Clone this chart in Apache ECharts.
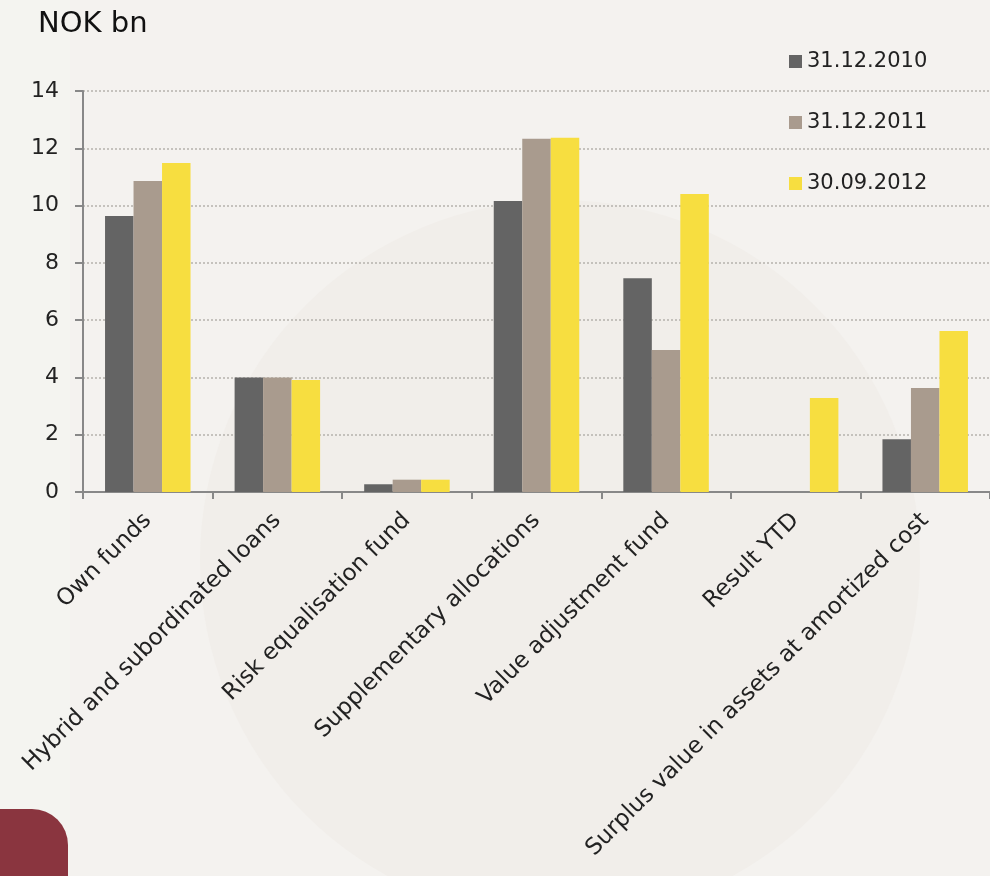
<!DOCTYPE html>
<html><head><meta charset="utf-8">
<script src="https://cdn.jsdelivr.net/npm/echarts@6/dist/echarts.min.js"></script>
<style>html,body{margin:0;padding:0;background:#f4f2ef}#c{width:990px;height:876px}</style>
</head><body><div id="c"></div>
<script>
const categories = ["Own funds","Hybrid and subordinated loans","Risk equalisation fund","Supplementary allocations","Value adjustment fund","Result YTD","Surplus value in assets at amortized cost"];
const s2010 = [9.64, 4.0, 0.27, 10.16, 7.46, 0, 1.84];
const s2011 = [10.86, 4.0, 0.43, 12.33, 4.96, 0, 3.63];
const s2012 = [11.49, 3.91, 0.43, 12.37, 10.4, 3.28, 5.62];
const seriesNames = ["31.12.2010","31.12.2011","30.09.2012"];
const colors = ["#646464","#a99b8e","#f7de40"];
const chart = echarts.init(document.getElementById('c'));
const font = "Verdana, 'DejaVu Sans', sans-serif";
chart.setOption({
  backgroundColor: '#f4f2ef',
  animation: false,
  textStyle: {fontFamily: font},
  title: {text: 'NOK bn', left: 33, top: 5, textStyle: {fontFamily: font, fontSize: 29, fontWeight: 'normal', color: '#111'}},
  graphic: [
    {type: 'circle', shape: {cx: 560, cy: 560, r: 360}, style: {fill: '#f1eeea'}, z: -10},
    {type: 'rect', shape: {x: 0, y: 0, width: 70, height: 876}, style: {fill: '#f4f4f0'}, z: -9},
    {type: 'rect', shape: {x: 0, y: 809, width: 68, height: 80, r: [0, 36, 0, 0]}, style: {fill: '#8a353f'}, z: 10}
  ],
  legend: {
    orient: 'vertical', left: 784, top: 46, itemWidth: 13, itemHeight: 13, itemGap: 40,
    icon: 'rect',
    textStyle: {fontFamily: font, fontSize: 21, color: '#222'},
    data: seriesNames
  },
  grid: {left: 83, top: 91, width: 910, height: 401},
  xAxis: {
    type: 'category', data: categories,
    axisLine: {lineStyle: {color: '#888', width: 2}},
    axisTick: {show: true, length: 7, lineStyle: {color: '#888', width: 2}},
    axisLabel: {rotate: 45, fontSize: 23, color: '#222', margin: 25, interval: 0, fontFamily: font}
  },
  yAxis: {
    type: 'value', min: 0, max: 14, interval: 2,
    axisLine: {show: true, lineStyle: {color: '#888', width: 2}},
    axisTick: {show: true, length: 8, lineStyle: {color: '#888', width: 2}},
    axisLabel: {fontSize: 22, color: '#222', margin: 24, fontFamily: font},
    splitLine: {lineStyle: {color: '#b5b2ad', type: [2, 2], width: 1.5}}
  },
  series: [s2010, s2011, s2012].map((d, i) => ({
    name: seriesNames[i], type: 'bar', data: d, barWidth: 28.5, barGap: '0%',
    itemStyle: {color: colors[i]}
  }))
});
</script></body></html>
